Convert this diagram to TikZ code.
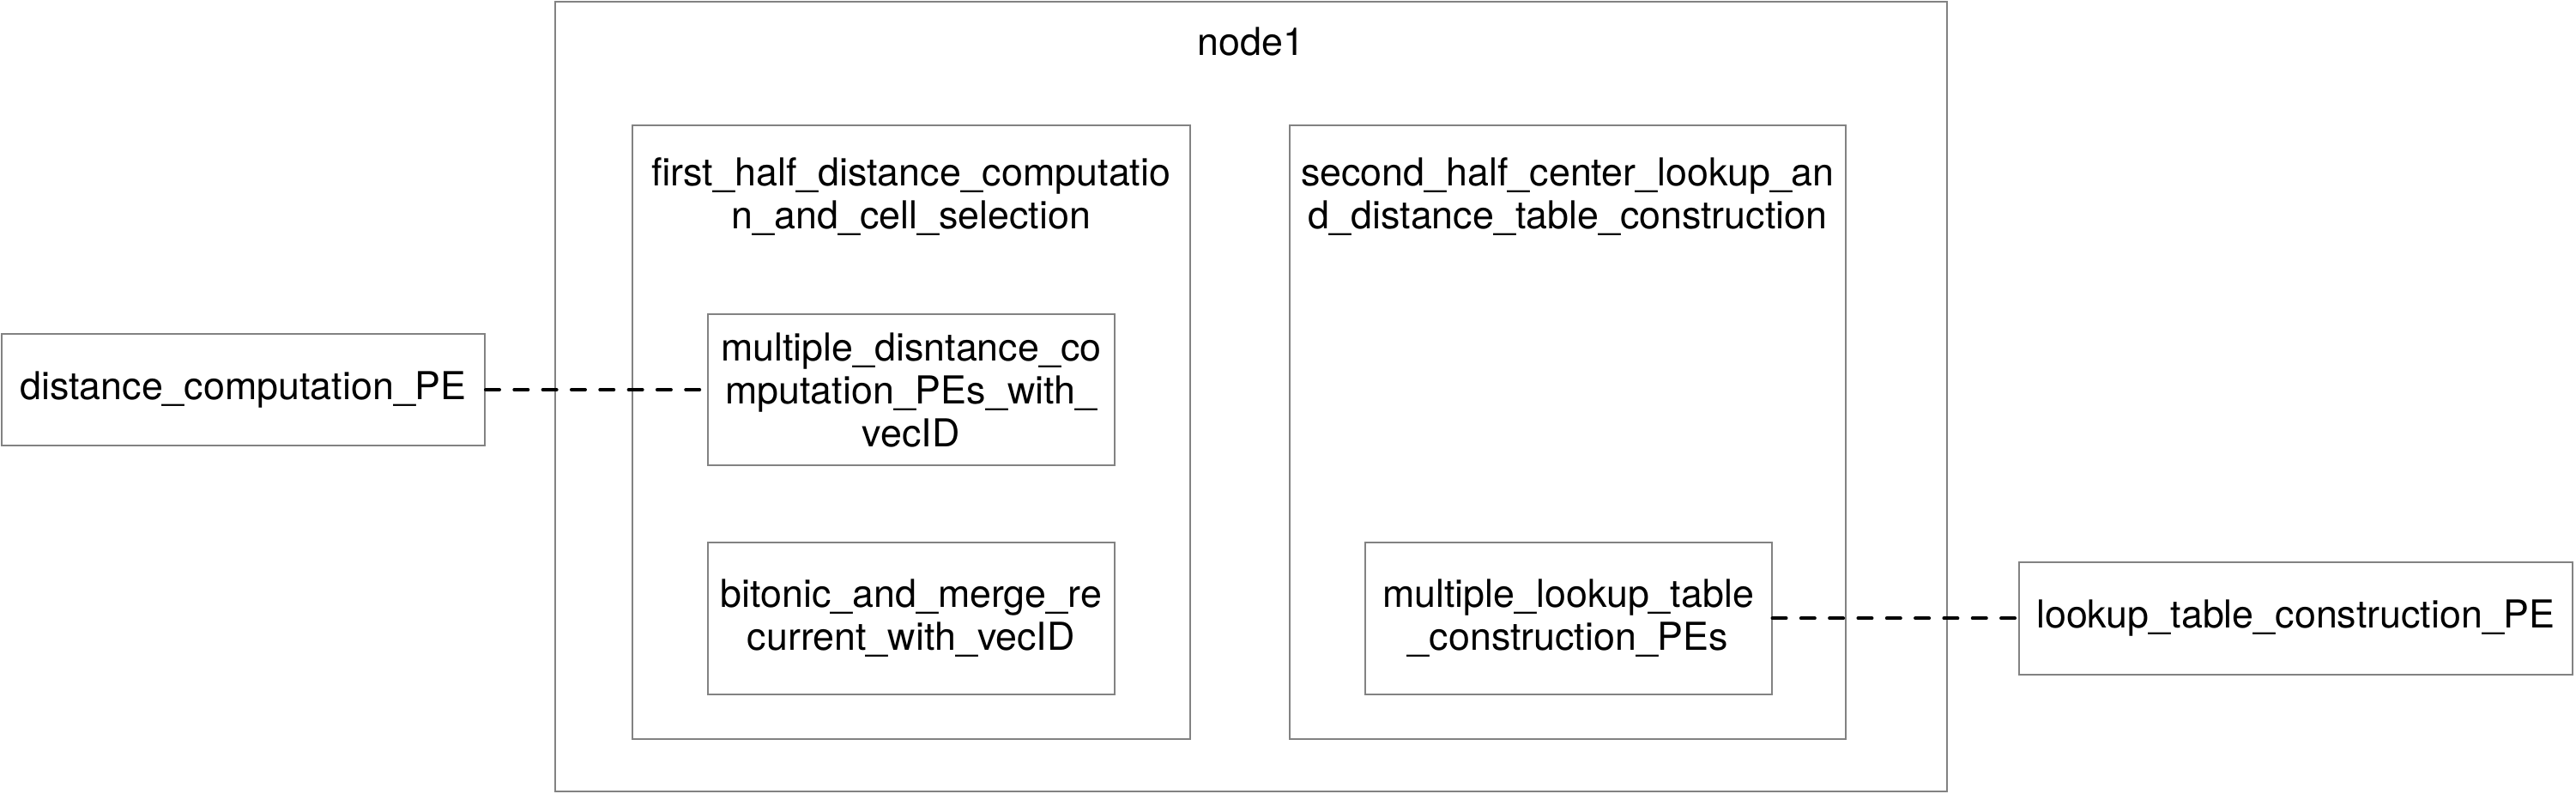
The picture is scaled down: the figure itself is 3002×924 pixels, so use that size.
\documentclass[tikz,border=0pt]{standalone}
\usepackage{fontspec}
\setmainfont{TeX Gyre Heros}
\definecolor{boxgray}{RGB}{130,130,130}
\newcommand{\upx}{0.25pt}
\begin{document}
\begin{tikzpicture}[x=0.25pt,y=-0.25pt,
  box/.style={draw=boxgray, line width=0.5pt, rectangle, inner sep=0pt, align=center,
    font=\fontsize{11.2pt}{12.5pt}\selectfont},
  lbl/.style={inner sep=0pt, align=center, font=\fontsize{11.2pt}{12.5pt}\selectfont},
  link/.style={draw=black, line width=1pt, line cap=round, dash pattern=on 4pt off 4.33pt}]
\useasboundingbox (0,0) rectangle (3002,924);
% outer container
\node[box, minimum width=1621.5*\upx, minimum height=920*\upx] (n1) at (1457.75,462) {};
\node[lbl] (n1lbl) at (1457.75,48) {node1};
% first half
\node[box, minimum width=649.5*\upx, minimum height=715*\upx] (fh) at (1061.75,503.5) {};
\node[lbl] (fhlbl) at (1061.75,229) {first\_half\_distance\_computatio\\n\_and\_cell\_selection};
% second half
\node[box, minimum width=648*\upx, minimum height=715*\upx] (sh) at (1827,503.5) {};
\node[lbl] (shlbl) at (1827,229) {second\_half\_center\_lookup\_an\\d\_distance\_table\_construction};
% inner boxes
\node[box, minimum width=473.5*\upx, minimum height=176*\upx] (md) at (1061.75,454) {multiple\_disntance\_co\\mputation\_PEs\_with\_\\vecID};
\node[box, minimum width=473.5*\upx, minimum height=176.5*\upx] (bm) at (1061.75,720.25) {bitonic\_and\_merge\_re\\current\_with\_vecID};
\node[box, minimum width=474*\upx, minimum height=176.5*\upx] (ml) at (1827.5,720.25) {multiple\_lookup\_table\\\_construction\_PEs};
% outside boxes
\node[box, minimum width=563*\upx, minimum height=130*\upx] (dpe) at (283.5,454) {distance\_computation\_PE};
\node[box, minimum width=645.3*\upx, minimum height=130.8*\upx] (lpe) at (2675.4,720.25) {lookup\_table\_construction\_PE};
% connectors
\draw[link] (dpe.east) -- (md.west);
\draw[link] (ml.east) -- (lpe.west);
\end{tikzpicture}
\end{document}
